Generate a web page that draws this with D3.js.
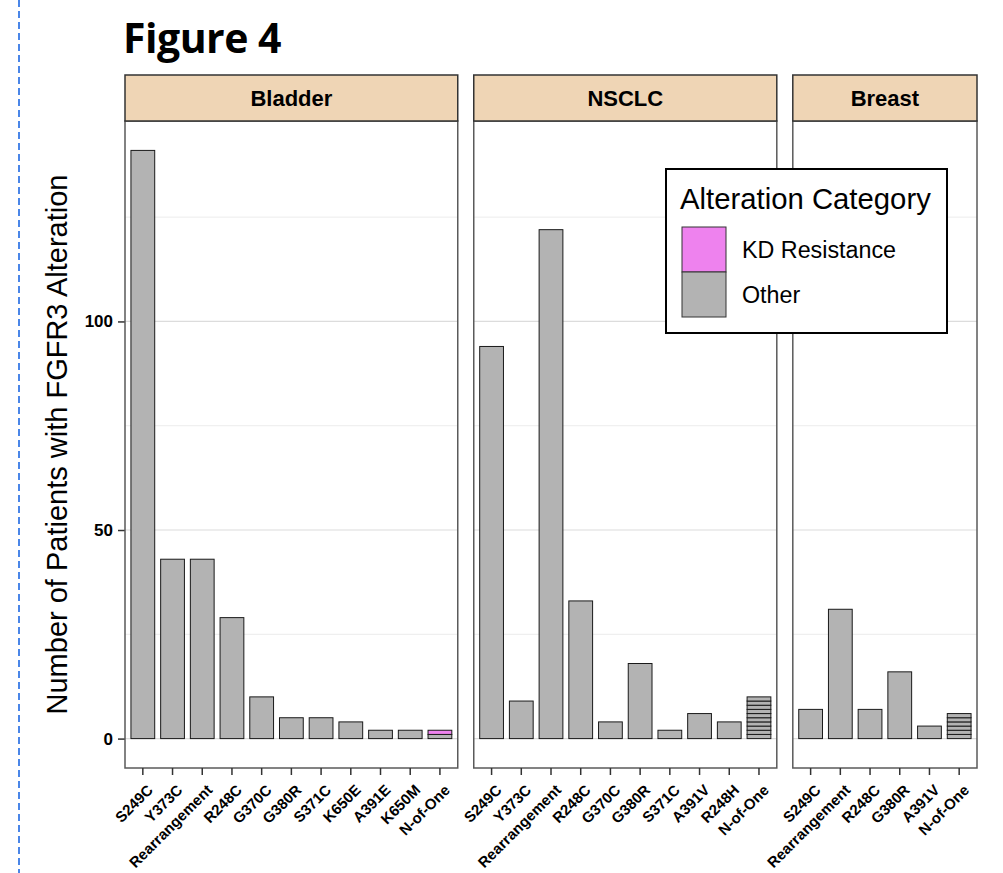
<!DOCTYPE html>
<html lang="en">
<head>
<meta charset="UTF-8">
<title>Figure 4</title>
<script src="https://d3js.org/d3.v7.min.js"></script>
<style>
  body { margin: 0; background: #fff; }
  svg { display: block; font-family: "Liberation Sans", Arial, sans-serif; }
</style>
</head>
<body>
<svg id="chart" width="1003" height="873"></svg>
<script>
// data
const panelNames = ["Bladder", "NSCLC", "Breast"];

const bladderCats = ["S249C", "Y373C", "Rearrangement", "R248C", "G370C", "G380R", "S371C", "K650E", "A391E", "K650M", "N-of-One"];
const bladderVals = [141, 43, 43, 29, 10, 5, 5, 4, 2, 2, null];
const bladderNofOne = ["Other", "KD Resistance"];

const nsclcCats = ["S249C", "Y373C", "Rearrangement", "R248C", "G370C", "G380R", "S371C", "A391V", "R248H", "N-of-One"];
const nsclcVals = [94, 9, 122, 33, 4, 18, 2, 6, 4, null];
const nsclcNofOne = ["Other", "Other", "Other", "Other", "Other", "Other", "Other", "Other", "Other", "Other"];

const breastCats = ["S249C", "Rearrangement", "R248C", "G380R", "A391V", "N-of-One"];
const breastVals = [7, 31, 7, 16, 3, null];
const breastNofOne = ["Other", "Other", "Other", "Other", "Other", "Other"];

const legendItems = ["KD Resistance", "Other"];
const yTicks = [0, 50, 100];
const yMinor = [25, 75, 125];

const fillColor = { "KD Resistance": "#ee82ee", "Other": "#b3b3b3" };

const panels = [
  { name: panelNames[0], cats: bladderCats, vals: bladderVals, nOfOne: bladderNofOne },
  { name: panelNames[1], cats: nsclcCats, vals: nsclcVals, nOfOne: nsclcNofOne },
  { name: panelNames[2], cats: breastCats, vals: breastVals, nOfOne: breastNofOne }
];

const svg = d3.select("#chart");

// left dashed rule
svg.append("line")
  .attr("x1", 19).attr("x2", 19).attr("y1", 0).attr("y2", 873)
  .attr("stroke", "#4a86e8").attr("stroke-width", 2)
  .attr("stroke-dasharray", "7,4");

// title
svg.append("text")
  .attr("x", 123).attr("y", 53)
  .attr("font-family", "'Open Sans', sans-serif")
  .attr("font-weight", "bold").attr("font-size", 41)
  .attr("letter-spacing", -0.5)
  .text("Figure 4");

const left = 125, right = 977, gap = 16;
const stripTop = 75, stripH = 46;
const plotTop = stripTop + stripH, plotBottom = 768;

const maxVal = d3.max(panels, p => d3.max(p.vals.concat([p.nOfOne.length])));
const y = d3.scaleLinear()
  .domain([-0.05 * maxVal, maxVal * 1.05])
  .range([plotBottom, plotTop]);

const units = d3.sum(panels, p => p.cats.length + 0.2);
const unitW = (right - left - gap * (panels.length - 1)) / units;

// y axis
const yAxis = svg.append("g").attr("transform", `translate(${left},0)`)
  .call(d3.axisLeft(y).tickValues(yTicks).tickSize(7).tickPadding(5));
yAxis.select(".domain").remove();
yAxis.selectAll("line").attr("stroke", "#333").attr("stroke-width", 1.5);
yAxis.selectAll("text")
  .attr("font-family", "'Liberation Sans', Arial, sans-serif")
  .attr("font-weight", "bold").attr("font-size", 17).attr("fill", "#000");

svg.append("text")
  .attr("transform", `translate(67,${(plotTop + plotBottom) / 2}) rotate(-90)`)
  .attr("text-anchor", "middle")
  .attr("font-size", 29)
  .text("Number of Patients with FGFR3 Alteration");

let x0 = left;
panels.forEach(p => {
  const w = unitW * (p.cats.length + 0.2);
  const x = d3.scaleBand().domain(p.cats).range([x0, x0 + w])
    .paddingInner(0.2).paddingOuter(0.2);
  const g = svg.append("g");

  // gridlines
  g.selectAll("line.minor").data(yMinor).join("line")
    .attr("x1", x0).attr("x2", x0 + w)
    .attr("y1", d => y(d)).attr("y2", d => y(d))
    .attr("stroke", "#ececec").attr("stroke-width", 1);
  g.selectAll("line.major").data(yTicks).join("line")
    .attr("x1", x0).attr("x2", x0 + w)
    .attr("y1", d => y(d)).attr("y2", d => y(d))
    .attr("stroke", "#dcdcdc").attr("stroke-width", 1.2);

  // plain bars
  const bars = p.cats.map((c, i) => ({ c, v: p.vals[i] })).filter(d => d.v != null);
  g.selectAll("rect.bar").data(bars).join("rect")
    .attr("x", d => x(d.c)).attr("width", x.bandwidth())
    .attr("y", d => y(d.v)).attr("height", d => y(0) - y(d.v))
    .attr("fill", fillColor["Other"]).attr("stroke", "#1a1a1a").attr("stroke-width", 1);

  // N-of-One stacked unit segments
  g.selectAll("rect.seg").data(p.nOfOne).join("rect")
    .attr("x", x("N-of-One")).attr("width", x.bandwidth())
    .attr("y", (d, i) => y(i + 1)).attr("height", (d, i) => y(i) - y(i + 1))
    .attr("fill", d => fillColor[d]).attr("stroke", "#1a1a1a").attr("stroke-width", 1);

  // panel border
  g.append("rect")
    .attr("x", x0).attr("y", plotTop).attr("width", w).attr("height", plotBottom - plotTop)
    .attr("fill", "none").attr("stroke", "#5a5a5a").attr("stroke-width", 1.5);

  // strip
  g.append("rect")
    .attr("x", x0).attr("y", stripTop).attr("width", w).attr("height", stripH)
    .attr("fill", "#efd5b5").attr("stroke", "#333").attr("stroke-width", 1.5);
  g.append("text")
    .attr("x", x0 + w / 2).attr("y", stripTop + stripH / 2 + 8)
    .attr("text-anchor", "middle").attr("font-weight", "bold").attr("font-size", 22)
    .text(p.name);

  // x axis
  const xAxis = g.append("g").attr("transform", `translate(0,${plotBottom})`)
    .call(d3.axisBottom(x).tickSize(7).tickPadding(3));
  xAxis.select(".domain").remove();
  xAxis.selectAll("line").attr("stroke", "#333").attr("stroke-width", 1.5);
  xAxis.selectAll("text")
    .attr("font-family", "'Liberation Sans', Arial, sans-serif")
    .attr("font-weight", "bold").attr("font-size", 15).attr("fill", "#000")
    .attr("text-anchor", "end")
    .attr("y", 0).attr("dy", 0)
    .attr("transform", "translate(11,23) rotate(-45)");

  x0 += w + gap;
});

// legend
const lg = svg.append("g").attr("transform", "translate(666,169)");
lg.append("rect").attr("width", 281).attr("height", 164)
  .attr("fill", "#fff").attr("stroke", "#000").attr("stroke-width", 2);
lg.append("text").attr("x", 14).attr("y", 40).attr("font-size", 29.3)
  .text("Alteration Category");
legendItems.forEach((d, i) => {
  lg.append("rect").attr("x", 16).attr("y", 58 + i * 45).attr("width", 44).attr("height", 45)
    .attr("fill", fillColor[d]).attr("stroke", "#333").attr("stroke-width", 1);
  lg.append("text").attr("x", 76).attr("y", 89 + i * 45).attr("font-size", 23.3)
    .text(d);
});
</script>
</body>
</html>
